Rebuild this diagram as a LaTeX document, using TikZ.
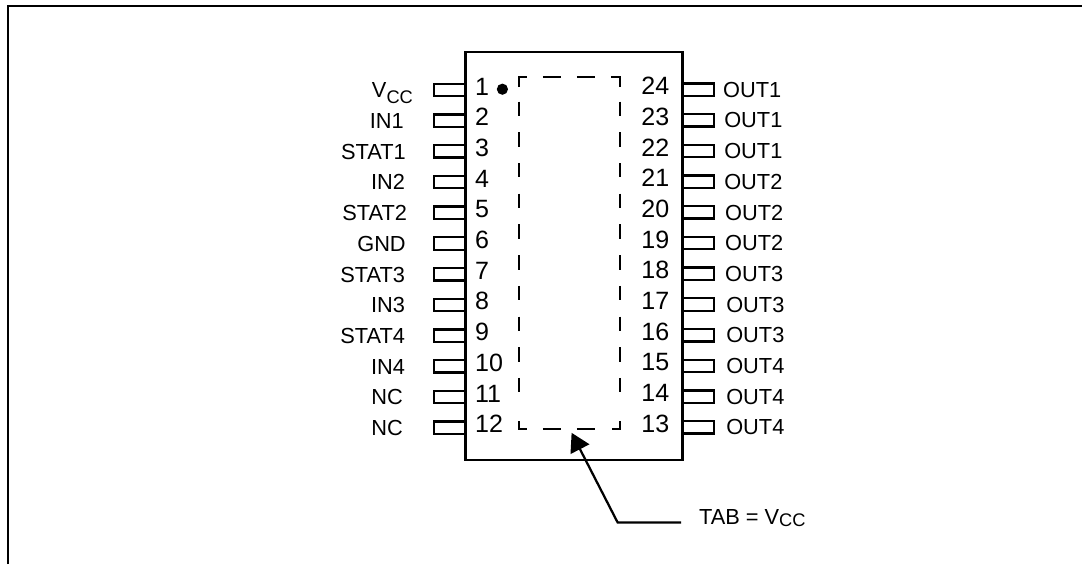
\documentclass[tikz,border=0pt]{standalone}
\usepackage{fontspec}
\setmainfont{Liberation Sans}
\usetikzlibrary{arrows.meta,positioning}

\newcommand{\vccsub}[1]{V\raisebox{#1}{\fontsize{13}{14}\selectfont CC}}

\tikzset{
  pinbox/.style={rectangle,draw=black,line width=1.6pt,minimum width=.78cm,minimum height=.31cm,inner sep=0pt,outer sep=0pt},
  pinnum/.style={font=\fontsize{17.8}{20}\selectfont,inner sep=0pt},
  pinname/.style={font=\fontsize{15.5}{18}\selectfont,inner sep=0pt},
  tabdash/.style={line width=1.8pt}
}

\begin{document}
\begin{tikzpicture}
  \useasboundingbox (0,0) rectangle (27.05,-14.1);

  % outer frame
  \draw[line width=1.45pt] (.2,-14.1) -- (.2,-.15) -- (27.05,-.15);

  % left pins
  \foreach \i/\lab/\xe in {1/{\vccsub{-3.9pt}}/10.33,2/IN1/10.1,3/STAT1/10.15,4/IN2/10.13,5/STAT2/10.18,6/GND/10.15,7/STAT3/10.13,8/IN3/10.13,9/STAT4/10.13,10/IN4/10.13,11/NC/10.08,12/NC/10.08} {
    \pgfmathsetmacro{\ypin}{-2.25-(\i-1)*.7675}
    \node[pinbox,anchor=east] (pinL\i) at (11.63,\ypin) {};
    \node[pinnum,anchor=base west] (numL\i) at (11.87,\ypin-.125) {\i};
    \node[pinname,anchor=base east] (nameL\i) at (\xe,\ypin-.195) {\lab};
  }

  % right pins
  \foreach \i/\lab/\xs in {24/OUT1/18.07,23/OUT1/18.1,22/OUT1/18.1,21/OUT2/18.1,20/OUT2/18.12,19/OUT2/18.12,18/OUT3/18.12,17/OUT3/18.15,16/OUT3/18.15,15/OUT4/18.15,14/OUT4/18.15,13/OUT4/18.15} {
    \pgfmathsetmacro{\ypin}{-2.24-(24-\i)*.7675}
    \node[pinbox,anchor=west] (pinR\i) at (17.07,\ypin) {};
    \node[pinnum,anchor=base west] (numR\i) at (16.03,\ypin-.125) {\i};
    \node[pinname,anchor=base west] (nameR\i) at (\xs,\ypin-.19) {\lab};
  }

  % package body
  \node[rectangle,draw=black,line width=1.9pt,minimum width=5.44cm,minimum height=10.2cm,inner sep=0pt,outer sep=0pt,above right] (chip) at (11.63,-11.5) {};
  \fill (12.56,-2.23) circle (.14);

  % exposed tab, corners
  \draw[tabdash] (12.98,-2.18) -- (12.98,-1.93) -- (13.18,-1.93);
  \draw[tabdash] (15.27,-1.93) -- (15.5,-1.93) -- (15.5,-2.18);
  \draw[tabdash] (12.98,-10.53) -- (12.98,-10.73) -- (13.18,-10.73);
  \draw[tabdash] (15.3,-10.73) -- (15.5,-10.73) -- (15.5,-10.53);

  % exposed tab, top and bottom dashes
  \foreach \xd in {13.57,14.42} {
    \draw[tabdash] (\xd,-1.93) -- (\xd+.45,-1.93);
    \draw[tabdash] (\xd,-10.73) -- (\xd+.45,-10.73);
  }
  % exposed tab, side dashes
  \foreach \k in {0,...,9} {
    \draw[tabdash] (12.98,-2.54-\k*.7675) -- (12.98,-2.9-\k*.7675);
    \draw[tabdash] (15.5,-2.54-\k*.7675) -- (15.5,-2.9-\k*.7675);
  }

  % tab callout
  \node[pinname,anchor=base west] (tablabel) at (17.47,-13.1) {TAB = \vccsub{-2pt}};
  \coordinate (tabend) at (17.03,-13.06);
  \coordinate (tabknee) at (15.44,-13.06);
  \coordinate (tabtip) at (14.29,-10.82);
  \draw[line width=1.6pt,-{Triangle[length=.46cm,width=.52cm]}] (tabend) -- (tabknee) -- (tabtip);
\end{tikzpicture}
\end{document}
